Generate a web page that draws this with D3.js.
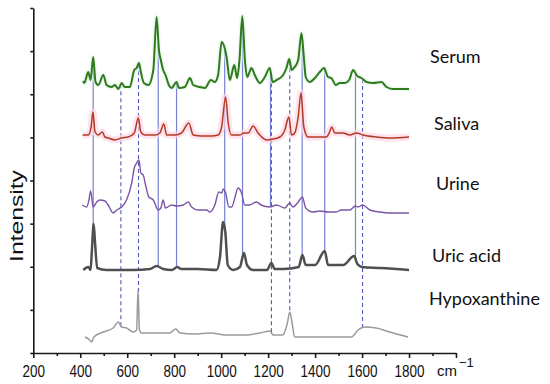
<!DOCTYPE html>
<html>
<head>
<meta charset="utf-8">
<script src="https://cdn.jsdelivr.net/npm/d3@7"></script>
<style>
  body { margin: 0; background: #fff; }
  svg { display: block; }
</style>
</head>
<body>
<svg id="chart"></svg>
<script>
// spectra as [wavenumber (cm-1), intensity (arbitrary, stacked offset)]
const serum = [[412,272],[417,270],[434,281],[444,273],[455,296],[465,271],[477,268],[498,278],[512,268],[533,266],[548,268],[562,264],[576,270],[590,266],[611,266],[630,283],[640,285],[650,290],[658,281],[671,270],[690,268],[711,283],[725,336],[735,303],[743,293],[753,283],[763,278],[777,268],[789,265],[810,271],[820,265],[845,266],[867,275],[881,268],[909,266],[931,265],[956,273],[973,271],[987,278],[1002,311],[1016,304],[1023,296],[1037,273],[1056,288],[1068,275],[1078,293],[1090,337],[1101,293],[1111,276],[1129,285],[1143,278],[1165,270],[1186,276],[1207,285],[1219,271],[1236,273],[1264,278],[1278,285],[1290,294],[1300,283],[1313,286],[1328,293],[1342,320],[1352,296],[1360,276],[1377,271],[1399,275],[1420,281],[1438,285],[1455,276],[1469,275],[1488,268],[1505,270],[1526,270],[1545,273],[1562,283],[1579,277],[1597,275],[1619,271],[1647,270],[1683,271],[1704,266],[1732,264],[1800,264]];

const saliva = [[410,218],[434,218],[446,226],[454,241],[463,221],[477,218],[494,221],[505,216],[519,215],[548,213],[576,215],[604,216],[630,220],[647,235],[658,221],[675,218],[718,218],[739,220],[756,229],[768,218],[803,218],[831,220],[862,230],[881,218],[917,217],[959,217],[987,218],[1002,226],[1019,256],[1030,230],[1044,218],[1080,218],[1097,220],[1115,220],[1136,227],[1157,220],[1193,213],[1221,214],[1250,216],[1271,223],[1288,236],[1300,218],[1313,220],[1328,236],[1340,260],[1352,226],[1370,216],[1405,216],[1448,216],[1460,220],[1471,226],[1484,220],[1498,220],[1519,220],[1548,218],[1576,220],[1604,218],[1661,216],[1718,215],[1800,216]];

const urine = [[409,148],[427,146],[437,153],[444,162],[455,146],[470,151],[484,153],[505,152],[519,148],[540,140],[555,143],[576,146],[597,153],[619,170],[630,185],[640,190],[650,193],[658,180],[668,178],[678,168],[692,156],[711,153],[732,143],[743,145],[753,153],[763,145],[789,148],[810,147],[838,148],[860,151],[874,146],[902,143],[938,143],[952,141],[973,148],[990,161],[1002,160],[1009,164],[1018,161],[1033,146],[1045,146],[1058,155],[1072,165],[1087,160],[1100,148],[1120,148],[1150,151],[1170,148],[1207,146],[1236,148],[1271,145],[1292,150],[1305,146],[1328,151],[1346,156],[1360,145],[1390,141],[1420,142],[1455,141],[1490,141],[1511,143],[1548,143],[1572,147],[1583,146],[1602,148],[1633,143],[1675,141],[1718,140],[1800,140]];

const uricAcid = [[413,83],[434,86],[444,83],[450,105],[457,129],[463,110],[472,85],[512,83],[625,83],[697,84],[725,87],[753,84],[790,83],[813,86],[830,84],[900,84],[980,83],[995,96],[1008,131],[1018,120],[1028,88],[1051,83],[1080,86],[1097,100],[1110,88],[1136,83],[1195,83],[1214,90],[1228,84],[1265,84],[1330,86],[1346,98],[1360,88],[1400,88],[1441,102],[1455,88],[1520,88],[1566,97],[1580,89],[1600,86],[1680,85],[1800,83]];

const hypoxanthine = [[420,16],[440,13],[448,11],[458,16],[498,21],[540,25],[562,31],[575,26],[597,25],[625,21],[640,23],[646,63],[652,23],[660,20],[710,20],[780,20],[807,24],[825,20],[885,19],[955,20],[1020,18],[1105,18],[1165,20],[1207,22],[1222,18],[1262,18],[1282,30],[1292,41],[1302,30],[1313,16],[1350,16],[1480,16],[1555,16],[1583,23],[1611,26],[1660,25],[1718,21],[1796,16]];

const seriesNames = ['Serum', 'Saliva', 'Urine', 'Uric acid', 'Hypoxanthine'];

// marker lines: solid ones drop to uric acid, dashed ones to hypoxanthine
const solidMarks = [455, 732, 810, 1015, 1091, 1345, 1441, 1572];
const solidToUrine = [1210];
const dashedMarks = [573, 648, 1214, 1292, 1602];

const xMajorTicks = [200, 400, 600, 800, 1000, 1200, 1400, 1600, 1800, 2000];
const xMinorTicks = [300, 500, 700, 900, 1100, 1300, 1500, 1700, 1900];

const width = 550, height = 384;
const margin = { top: 8, right: 94, bottom: 31, left: 33.3 };

const svg = d3.select('#chart')
    .attr('width', width)
    .attr('height', height);

const x = d3.scaleLinear()
    .domain([200, 2000])
    .range([margin.left, width - margin.right]);

const y = d3.scaleLinear()
    .domain([0, 345])
    .range([height - margin.bottom, margin.top]);

// value of a spectrum at a given wavenumber (linear between read points)
const bis = d3.bisector(d => d[0]).left;
function valueAt(series, w) {
    const i = Math.max(1, Math.min(series.length - 1, bis(series, w)));
    const a = series[i - 1], b = series[i];
    const t = (w - a[0]) / (b[0] - a[0]);
    return a[1] + t * (b[1] - a[1]);
}

const line = d3.line()
    .x(d => x(d[0]))
    .y(d => y(d[1]))
    .curve(d3.curveMonotoneX);

// vertical guide lines first so the spectra sit on top
const guides = svg.append('g');
guides.selectAll('.solid')
    .data(solidMarks.map(w => ({ w, to: uricAcid })).concat(solidToUrine.map(w => ({ w, to: urine }))))
    .join('line')
      .attr('x1', d => x(d.w)).attr('x2', d => x(d.w))
      .attr('y1', d => y(valueAt(serum, d.w)))
      .attr('y2', d => y(valueAt(d.to, d.w)))
      .attr('stroke', '#7780d4')
      .attr('stroke-width', 1.2);

guides.selectAll('.dashed')
    .data(dashedMarks)
    .join('line')
      .attr('x1', d => x(d)).attr('x2', d => x(d))
      .attr('y1', d => y(valueAt(serum, d)))
      .attr('y2', d => y(valueAt(hypoxanthine, d)))
      .attr('stroke', '#4d58c0')
      .attr('stroke-width', 1.1)
      .attr('stroke-dasharray', '4,3');

// soft bands behind serum and saliva
svg.append('path').datum(serum)
    .attr('d', line).attr('fill', 'none')
    .attr('stroke', '#e2f5ea').attr('stroke-width', 5).attr('opacity', 0.6);
svg.append('path').datum(saliva)
    .attr('d', line).attr('fill', 'none')
    .attr('stroke', '#fcd7e6').attr('stroke-width', 7).attr('opacity', 0.7);

const traces = [
    { data: serum, color: '#2f7a1c', w: 2 },
    { data: saliva, color: '#b23a22', w: 1.5 },
    { data: urine, color: '#7a55a6', w: 1.4 },
    { data: uricAcid, color: '#4f4f4f', w: 2.5 },
    { data: hypoxanthine, color: '#9a9a9a', w: 1.5 }
];

svg.append('g')
    .selectAll('path')
    .data(traces)
    .join('path')
      .attr('d', d => line(d.data))
      .attr('fill', 'none')
      .attr('stroke', d => d.color)
      .attr('stroke-width', d => d.w)
      .attr('stroke-linejoin', 'round');

// series labels
const labelPos = [63, 130, 190, 262, 305];
svg.append('g')
    .selectAll('text')
    .data(seriesNames)
    .join('text')
      .attr('x', (d, i) => [430, 434, 436, 432, 429][i])
      .attr('y', (d, i) => labelPos[i])
      .attr('font-family', 'Lato, "Noto Sans", sans-serif')
      .attr('font-size', 18)
      .attr('fill', '#111')
      .text(d => d);

// x axis
const xAxis = svg.append('g')
    .attr('transform', `translate(0,${y(0)})`)
    .call(d3.axisBottom(x).tickValues(xMajorTicks).tickSize(5).tickSizeOuter(0)
        .tickFormat(d => d === 2000 ? '' : d));
svg.append('g')
    .attr('transform', `translate(0,${y(0)})`)
    .call(d3.axisBottom(x).tickValues(xMinorTicks).tickSize(3).tickSizeOuter(0).tickFormat(''))
    .call(g => g.select('.domain').remove());

xAxis.selectAll('text')
    .attr('font-family', '"Liberation Sans", Arial, sans-serif')
    .attr('font-size', 13.5)
    .attr('fill', '#111')
    .attr('y', 0)
    .attr('transform', 'translate(0,20) scale(1,1.2) translate(0,-6)');

// y axis, ticks without labels
const yTicks = d3.range(9).map(i => i * 345 / 8);
svg.append('g')
    .attr('transform', `translate(${x(200)},0)`)
    .call(d3.axisLeft(y).tickValues(yTicks).tickSize(3).tickSizeOuter(0).tickFormat(''));

svg.selectAll('.domain, .tick line')
    .attr('stroke', '#1a1a1a')
    .attr('stroke-width', 1.6);

// unit label
const unit = svg.append('text')
    .attr('x', 437)
    .attr('y', 376)
    .attr('font-family', '"Liberation Sans", Arial, sans-serif')
    .attr('font-size', 15)
    .attr('fill', '#111');
unit.append('tspan').text('cm');
unit.append('tspan').attr('dx', 2).attr('dy', -9).attr('font-size', 13).text('\u22121');

// y title
svg.append('text')
    .attr('transform', 'translate(23,216) scale(1,1.3) rotate(-90)')
    .attr('text-anchor', 'middle')
    .attr('font-family', '"Liberation Sans", Arial, sans-serif')
    .attr('font-size', 19)
    .attr('fill', '#111')
    .text('Intensity');
</script>
</body>
</html>
